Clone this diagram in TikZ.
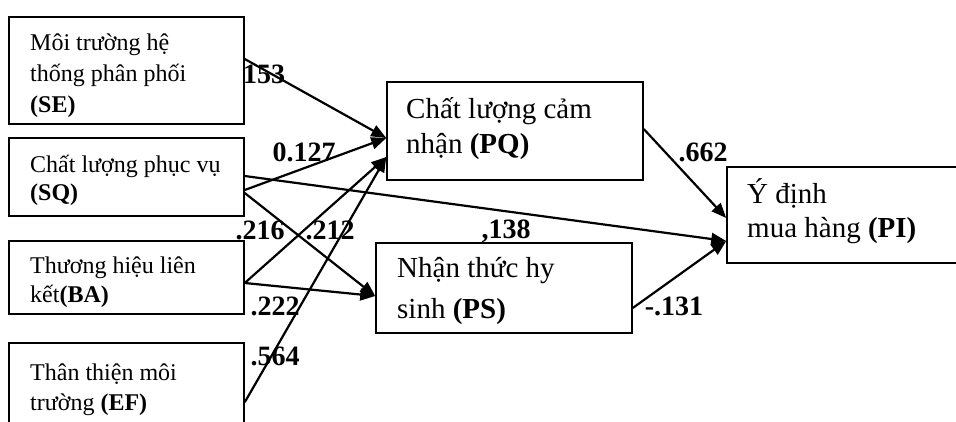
\documentclass[tikz,border=0pt]{standalone}
\usepackage{fontspec}
\setmainfont{Liberation Serif}
\usetikzlibrary{arrows.meta}

\begin{document}
\begin{tikzpicture}[
  x=1pt,y=-1pt,
  box/.style={draw,line width=1.5pt,minimum width=235pt,inner sep=0pt},
  boxR/.style={draw,line width=1.5pt,minimum width=256pt,inner sep=0pt},
  txtL/.style={anchor=base west,inner sep=0pt,align=left,font=\fontsize{24}{30}\selectfont},
  txtR/.style={anchor=base west,inner sep=0pt,align=left,font=\fontsize{29}{35}\selectfont},
  coef/.style={inner sep=0pt,font=\fontsize{28}{28}\selectfont\bfseries},
  link/.style={-{Triangle[length=15pt,width=12pt]},line width=2.2pt}
]
  \useasboundingbox (0,0) rectangle (956,421);

  % boxes
  \node[box,minimum height=107pt] (se) at (126.5,70.5) {};
  \node[box,minimum height=78pt] (sq) at (126.5,177) {};
  \node[box,minimum height=73pt] (ba) at (126.5,277.5) {};
  \node[box,minimum height=102pt] (ef) at (126.5,394) {};
  \node[boxR,minimum height=98pt] (pq) at (515,131) {};
  \node[boxR,minimum height=90pt] (ps) at (504,288) {};
  \node[boxR,minimum height=96pt] (pi) at (855,215) {};

  % texts (base = last line)
  \node[txtL,font=\fontsize{24}{31}\selectfont] (seTxt) at (30,112)
    {Môi trường hệ\\thống phân phối\\\textbf{(SE)}};
  \node[txtL,font=\fontsize{24}{28}\selectfont] (sqTxt) at (30,200)
    {Chất lượng phục vụ\\\textbf{(SQ)}};
  \node[txtL,font=\fontsize{24}{29}\selectfont] (baTxt) at (30,302)
    {Thương hiệu liên\\kết\textbf{(BA)}};
  \node[txtL] (efTxt) at (30,410) {Thân thiện môi\\trường \textbf{(EF)}};
  \node[txtR] (pqTxt) at (406,153) {Chất lượng cảm\\nhận \textbf{(PQ)}};
  \node[txtR,font=\fontsize{29}{41}\selectfont] (psTxt) at (397,318)
    {Nhận thức hy\\sinh \textbf{(PS)}};
  \node[txtR,font=\fontsize{29}{34}\selectfont] (piTxt) at (747,237)
    {Ý định\\mua hàng \textbf{(PI)}};

  % paths
  \draw[link] ([yshift=11.5pt]se.east) -- ([yshift=-7pt]pq.west);
  \draw[link] ([yshift=-13pt]sq.east) -- ([yshift=-7pt]pq.west);
  \draw[link] ([yshift=1pt]sq.east) -- ([yshift=-26pt]pi.west);
  \draw[link] ([yshift=-16pt]sq.east) -- ([yshift=-8pt]ps.west);
  \draw[link] ([yshift=-5.5pt]ba.east) -- ([yshift=-26pt]pq.west);
  \draw[link] ([yshift=-5.5pt]ba.east) -- ([yshift=-8pt]ps.west);
  \draw[link] ([yshift=-60pt]ef.north east) -- ([yshift=-26pt]pq.west);
  \draw[link] ([yshift=2pt]pq.east) -- ([yshift=-3pt]pi.west);
  \draw[link] ([yshift=-20pt]ps.east) -- ([yshift=-26pt]pi.west);

  % coefficients
  \node[coef] (cSE) at (264,74) {153};
  \node[coef] (cSQpq) at (304,152) {0.127};
  \node[coef] (cSQps) at (260,230) {.216};
  \node[coef] (cBApq) at (330,230) {.212};
  \node[coef] (cBAps) at (275,306) {.222};
  \node[coef] (cEF) at (275,356) {.564};
  \node[coef] (cSQpi) at (506,231) {,138};
  \node[coef] (cPQ) at (703,152) {.662};
  \node[coef] (cPS) at (674,306) {-.131};
\end{tikzpicture}
\end{document}
